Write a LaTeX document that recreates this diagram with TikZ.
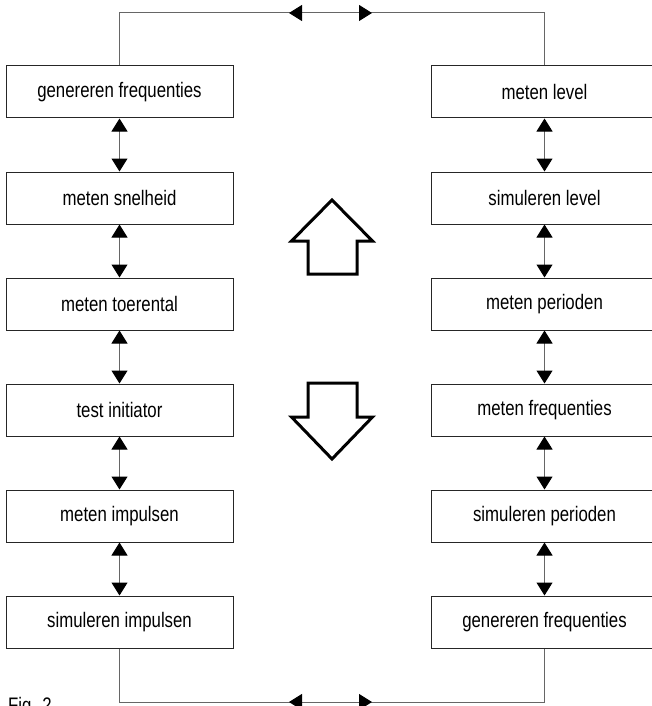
\documentclass[tikz,border=0pt]{standalone}
\usepackage{fontspec}
\newfontfamily\condfont[FakeStretch=0.8]{Liberation Sans}
\usetikzlibrary{arrows.meta}
\begin{document}
\begin{tikzpicture}[x=1pt,y=-1pt,
  box/.style={draw=black!85, line width=1pt, minimum width=227pt, minimum height=52pt, inner sep=0pt, font=\condfont\fontsize{21}{24}\selectfont},
  wire/.style={draw=black!60, line width=1pt},
  link/.style={draw=black!60, line width=1pt, {Triangle[length=13pt,width=16pt,color=black]}-{Triangle[length=13pt,width=16pt,color=black]}},
  bigarrow/.style={draw=black, line width=3pt, line join=miter},
  caption/.style={font=\condfont\fontsize{21}{24}\selectfont, inner sep=0pt, anchor=base west}]
\useasboundingbox (0,0) rectangle (651,706);
% left column
\node[box] (L1) at (119.5,92)  {genereren frequenties};
\node[box] (L2) at (119.5,198) {meten snelheid};
\node[box] (L3) at (119.5,304) {meten toerental};
\node[box] (L4) at (119.5,410) {test initiator};
\node[box] (L5) at (119.5,516) {meten impulsen};
\node[box] (L6) at (119.5,622) {simuleren impulsen};
% right column
\node[box] (R1) at (544.5,92)  {meten level};
\node[box] (R2) at (544.5,198) {simuleren level};
\node[box] (R3) at (544.5,304) {meten perioden};
\node[box] (R4) at (544.5,410) {meten frequenties};
\node[box] (R5) at (544.5,516) {simuleren perioden};
\node[box] (R6) at (544.5,622) {genereren frequenties};
% vertical links
\foreach \a/\b in {1/2,2/3,3/4,4/5,5/6}{
  \draw[link] (L\a.south) -- (L\b.north);
  \draw[link] (R\a.south) -- (R\b.north);
}
% top loop
\coordinate (top) at (0,13);
\draw[wire] (L1.north) -- (L1.north |- top) -- (R1.north |- top) -- (R1.north);
\coordinate (ta) at (289,13);
\coordinate (tb) at (372,13);
\draw[link] (ta) -- (tb);
% bottom loop
\coordinate (bot) at (0,702);
\draw[wire] (L6.south) -- (L6.south |- bot) -- (R6.south |- bot) -- (R6.south);
\coordinate (ba) at (289,702);
\coordinate (bb) at (372,702);
\draw[link] (ba) -- (bb);
% big hollow arrows
\draw[bigarrow] (308,274) -- (308,241) -- (291.5,241) -- (332,200) -- (372.5,241) -- (357,241) -- (357,274) -- cycle;
\draw[bigarrow] (308,383) -- (308,417) -- (291.5,417) -- (332,459) -- (372.5,417) -- (357,417) -- (357,383) -- cycle;
% caption
\node[caption] (fig) at (8,712) {Fig. 2};
\end{tikzpicture}
\end{document}
